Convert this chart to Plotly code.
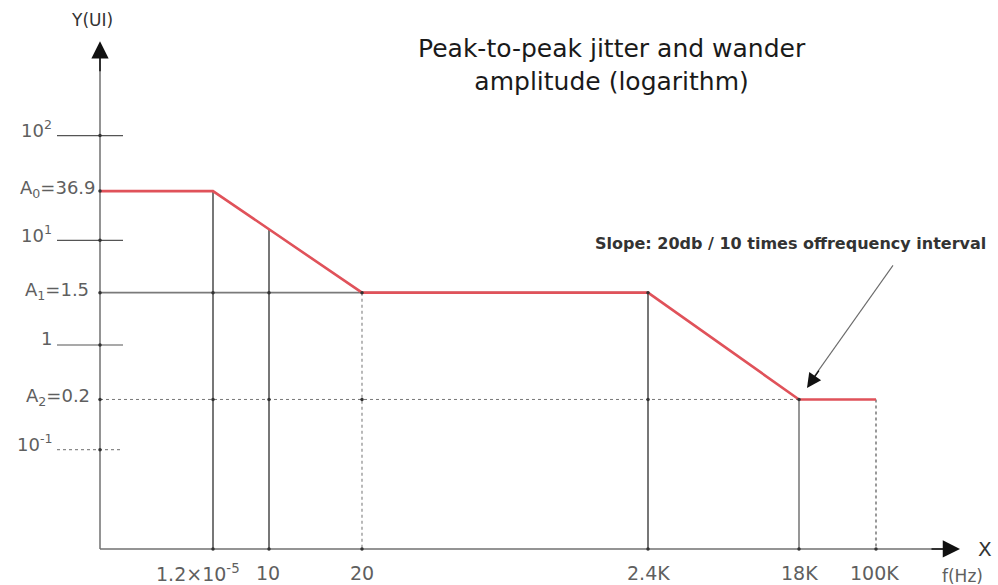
import plotly.graph_objects as go

# ---------------- data ----------------
# break frequencies (labels) and their schematic positions along the frequency axis
freq_labels = ["1.2×10<sup>-5</sup>", "10", "20", "2.4K", "18K", "100K"]
freq_pos = [1.13, 1.69, 2.62, 5.48, 6.99, 7.76]

# amplitude levels (log-decade scale; A-levels drawn schematically)
decade_labels = ["10<sup>2</sup>", "10<sup>1</sup>", "1", "10<sup>-1</sup>"]
decade_pos = [2, 1, 0, -1]
amp_labels = ["A<sub>0</sub>=36.9", "A<sub>1</sub>=1.5", "A<sub>2</sub>=0.2"]
amp_pos = [1.47, 0.5, -0.52]

# mask (red) : corner points as (frequency index, amplitude index)
mask_freq_idx = [None, 0, 2, 3, 4, 5]   # None = y-axis origin
mask_amp_idx = [0, 0, 1, 1, 2, 2]

title_text = "Peak-to-peak jitter and wander<br>amplitude (logarithm)"
slope_text = "Slope: 20db / 10 times offrequency interval"

# ---------------- geometry helpers ----------------
W, H = 998, 585
X0 = 0.0                  # y-axis location
YB = -1.948               # x-axis location
XR = [-1.0, 8.98]
YR = [-2.292, 3.295]

mx = [X0 if i is None else freq_pos[i] for i in mask_freq_idx]
my = [amp_pos[j] for j in mask_amp_idx]


def mask_at(x):
    for k in range(len(mx) - 1):
        if mx[k] <= x <= mx[k + 1]:
            t = (x - mx[k]) / (mx[k + 1] - mx[k]) if mx[k + 1] != mx[k] else 0
            return my[k] + t * (my[k + 1] - my[k])
    return my[-1]


fig = go.Figure()

LABEL = "#5f5f5f"
DARK = "#555555"
LIGHT = "#8a8a8a"


def seg(x, y, color, width, dash="solid"):
    fig.add_trace(go.Scatter(x=x, y=y, mode="lines",
                             line=dict(color=color, width=width, dash=dash),
                             hoverinfo="skip", showlegend=False))


# axis lines
seg([X0, X0], [YB, 2.85], "#707070", 1.5)
seg([X0, 8.5], [YB, YB], "#707070", 1.5)

# decade tick stubs on y axis
for i, v in enumerate(decade_pos):
    seg([-0.43, 0.23], [v, v], LIGHT if v == -1 else DARK, 1.2,
        "dot" if v == -1 else "solid")

# horizontal level lines
seg([X0, freq_pos[3]], [amp_pos[1], amp_pos[1]], "#7a7a7a", 1.8)
seg([X0, freq_pos[4]], [amp_pos[2], amp_pos[2]], "#777777", 1.0, "dot")

# vertical lines
vstyles = [(DARK, 1.6, "solid"), (DARK, 1.6, "solid"), ("#8a8a8a", 1.2, "dot"),
           (DARK, 1.6, "solid"), ("#6a6a6a", 1.4, "solid"), ("#555555", 1.2, "dot")]
for p, (c, w, d) in zip(freq_pos, vstyles):
    seg([p, p], [mask_at(p), YB], c, w, d)

# red mask line
fig.add_trace(go.Scatter(x=mx, y=my, mode="lines",
                         line=dict(color="#e0525a", width=2.6),
                         hoverinfo="skip", showlegend=False))

# slope pointer line
seg([7.93, 7.12], [0.76, -0.33], "#6a6a6a", 1.1)

# intersection dots
dx, dy = [], []
for v in decade_pos + amp_pos:
    dx.append(X0); dy.append(v)
for p in freq_pos:
    dx.append(p); dy.append(YB)
for p in freq_pos[:4]:
    dx.append(p); dy.append(amp_pos[1])
for p in freq_pos[:5]:
    dx.append(p); dy.append(amp_pos[2])
fig.add_trace(go.Scatter(x=dx, y=dy, mode="markers",
                         marker=dict(color="#333333", size=3.5),
                         hoverinfo="skip", showlegend=False))

annotations = []
# black arrowheads (short arrows at the tips)
annotations.append(dict(x=X0, y=2.9, ax=X0, ay=2.6, xref="x", yref="y", axref="x", ayref="y",
                        text="", showarrow=True, arrowhead=2, arrowsize=2.3, arrowwidth=1.5,
                        arrowcolor="#111111"))
annotations.append(dict(x=8.6, y=YB, ax=8.3, ay=YB, xref="x", yref="y", axref="x", ayref="y",
                        text="", showarrow=True, arrowhead=2, arrowsize=2.3, arrowwidth=1.5,
                        arrowcolor="#111111"))
annotations.append(dict(x=7.07, y=-0.41, ax=7.2, ay=-0.23, xref="x", yref="y", axref="x", ayref="y",
                        text="", showarrow=True, arrowhead=2, arrowsize=2.4, arrowwidth=1.2,
                        arrowcolor="#111111"))

FONT = "DejaVu Sans"
# axis titles
annotations.append(dict(x=X0 - 0.08, y=3.1, text="Y(UI)", showarrow=False,
                        font=dict(family=FONT, size=17, color="#333333")))
annotations.append(dict(x=8.85, y=YB, text="X", showarrow=False,
                        font=dict(family=FONT, size=20, color="#333333")))
annotations.append(dict(x=8.62, y=-2.21, text="f(Hz)", showarrow=False,
                        font=dict(family=FONT, size=17, color=LABEL)))

# x tick labels
xlab_shift = [-0.15, -0.01, 0, 0, 0, -0.02]
for lab, p, s in zip(freq_labels, freq_pos, xlab_shift):
    annotations.append(dict(x=p + s, y=-2.18, text=lab, showarrow=False,
                            font=dict(family=FONT, size=19, color=LABEL)))

# y tick labels
for lab, v in zip(decade_labels, decade_pos):
    annotations.append(dict(x=-0.46, y=v + 0.06, text=lab, showarrow=False, xanchor="right",
                            font=dict(family=FONT, size=18, color=LABEL)))
amp_right = [-0.02, -0.09, -0.08]
for lab, v, r in zip(amp_labels, amp_pos, amp_right):
    annotations.append(dict(x=r, y=v + 0.02, text=lab, showarrow=False, xanchor="right",
                            font=dict(family=FONT, size=18, color=LABEL)))

# title & slope note
annotations.append(dict(x=5.12, y=2.67, text=title_text, showarrow=False,
                        font=dict(family=FONT, size=25, color="#1a1a1a")))
annotations.append(dict(x=8.88, y=0.965, text="<b>" + slope_text + "</b>", showarrow=False,
                        xanchor="right", font=dict(family=FONT, size=16, color="#333333")))

fig.update_layout(
    width=W, height=H,
    margin=dict(l=0, r=0, t=0, b=0),
    paper_bgcolor="white", plot_bgcolor="white",
    xaxis=dict(range=XR, visible=False, fixedrange=True),
    yaxis=dict(range=YR, visible=False, fixedrange=True),
    annotations=annotations,
    showlegend=False,
)

fig.write_html("out.html", config={"displayModeBar": False},
               post_script="document.body.style.margin='0';document.body.style.overflow='hidden';")
